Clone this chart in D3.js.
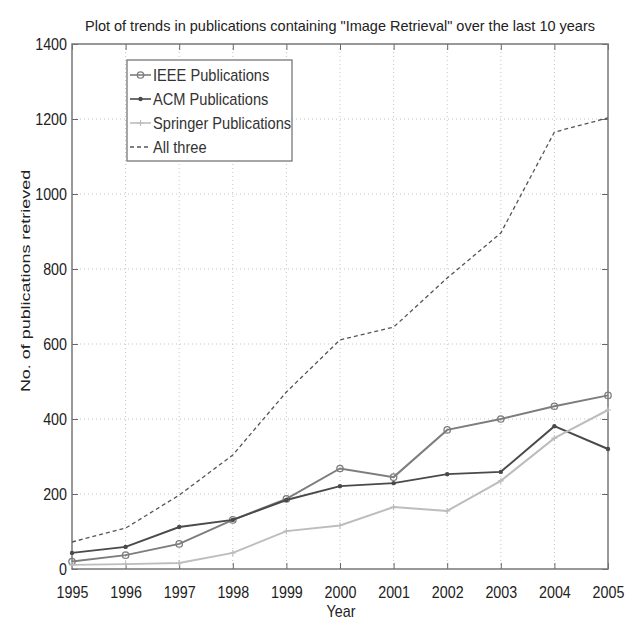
<!DOCTYPE html>
<html>
<head>
<meta charset="utf-8">
<script src="https://cdn.jsdelivr.net/npm/d3@7"></script>
<style>
  body { margin: 0; background: #fff; }
  svg { font-family: "Liberation Sans", Arial, sans-serif; }
</style>
</head>
<body>
<div id="chart"></div>
<script>
// data
const years = [1995, 1996, 1997, 1998, 1999, 2000, 2001, 2002, 2003, 2004, 2005];
const ieee = [20, 37, 67, 131, 187, 268, 245, 371, 400, 434, 463];
const acm = [43, 59, 112, 131, 184, 221, 229, 253, 259, 381, 320];
const springer = [11, 13, 16, 43, 101, 116, 165, 155, 235, 349, 424];
const allThree = [72, 109, 197, 304, 472, 611, 645, 776, 896, 1165, 1203];
const yTicks = [0, 200, 400, 600, 800, 1000, 1200, 1400];
const seriesNames = ["IEEE Publications", "ACM Publications", "Springer Publications", "All three"];

const W = 637, H = 623;
const margin = { top: 44, right: 29, bottom: 54, left: 72 };
const iw = W - margin.left - margin.right;
const ih = H - margin.top - margin.bottom;

const svg = d3.select("#chart").append("svg").attr("width", W).attr("height", H);
const g = svg.append("g").attr("transform", `translate(${margin.left},${margin.top})`);

const x = d3.scaleLinear().domain([1995, 2005]).range([0, iw]);
const y = d3.scaleLinear().domain([0, 1400]).range([ih, 0]);

// the source figure was squeezed sideways, so text is drawn narrower than normal
const condense = (sel, f) => sel.each(function () {
  const w = this.getComputedTextLength();
  d3.select(this).attr("textLength", w * f).attr("lengthAdjust", "spacingAndGlyphs");
});

// dotted grid
g.append("g").selectAll("line").data(years.slice(1, -1)).join("line")
  .attr("x1", d => x(d)).attr("x2", d => x(d)).attr("y1", 0).attr("y2", ih)
  .attr("stroke", "#c4c4c4").attr("stroke-width", 1).attr("stroke-dasharray", "1,3");
g.append("g").selectAll("line").data(yTicks.slice(1, -1)).join("line")
  .attr("y1", d => y(d)).attr("y2", d => y(d)).attr("x1", 0).attr("x2", iw)
  .attr("stroke", "#c4c4c4").attr("stroke-width", 1).attr("stroke-dasharray", "1,3");

// axes: matlab-style inward ticks on all four sides
const fmt = d3.format("d");
const styleAxis = sel => {
  sel.select(".domain").remove();
  sel.selectAll("line").attr("stroke", "#666");
  sel.selectAll("text").attr("fill", "#222").attr("font-size", 17).call(condense, 0.84);
};
g.append("g").attr("transform", `translate(0,${ih})`)
  .call(d3.axisBottom(x).tickValues(years).tickFormat(fmt).tickSizeInner(-6).tickSizeOuter(0).tickPadding(17))
  .call(styleAxis);
g.append("g")
  .call(d3.axisTop(x).tickValues(years).tickFormat("").tickSizeInner(-6).tickSizeOuter(0))
  .call(styleAxis);
g.append("g")
  .call(d3.axisLeft(y).tickValues(yTicks).tickFormat(fmt).tickSizeInner(-6).tickSizeOuter(0).tickPadding(5))
  .call(styleAxis);
g.append("g").attr("transform", `translate(${iw},0)`)
  .call(d3.axisRight(y).tickValues(yTicks).tickFormat("").tickSizeInner(-6).tickSizeOuter(0))
  .call(styleAxis);

g.append("rect").attr("width", iw).attr("height", ih)
  .attr("fill", "none").attr("stroke", "#777").attr("stroke-width", 1.5);

// series
const series = [
  { name: seriesNames[0], values: ieee, color: "#7d7d7d", dash: null, marker: "circle" },
  { name: seriesNames[1], values: acm, color: "#4a4a4a", dash: null, marker: "dot" },
  { name: seriesNames[2], values: springer, color: "#bdbdbd", dash: null, marker: "plus" },
  { name: seriesNames[3], values: allThree, color: "#555", dash: "4,3", marker: null },
];

const line = d3.line().x((d, i) => x(years[i])).y(d => y(d));

function drawMarker(sel, s, cx, cy) {
  if (s.marker === "circle") {
    sel.append("circle").attr("cx", cx).attr("cy", cy).attr("r", 3.2)
      .attr("fill", "none").attr("stroke", s.color).attr("stroke-width", 1.3);
  } else if (s.marker === "dot") {
    sel.append("circle").attr("cx", cx).attr("cy", cy).attr("r", 2.2).attr("fill", s.color);
  } else if (s.marker === "plus") {
    sel.append("path").attr("d", `M${cx - 3},${cy}H${cx + 3}M${cx},${cy - 3}V${cy + 3}`)
      .attr("stroke", s.color).attr("stroke-width", 1.2);
  }
}

series.forEach(s => {
  const sg = g.append("g");
  sg.append("path").attr("d", line(s.values)).attr("fill", "none")
    .attr("stroke", s.color).attr("stroke-width", s.dash ? 1.3 : 2)
    .attr("stroke-dasharray", s.dash);
  s.values.forEach((v, i) => drawMarker(sg, s, x(years[i]), y(v)));
});

// legend
const lg = svg.append("g").attr("transform", "translate(127,60)");
lg.append("rect").attr("width", 165).attr("height", 101)
  .attr("fill", "#fff").attr("stroke", "#777").attr("stroke-width", 1.3);
series.forEach((s, i) => {
  const yy = 15 + i * 24;
  const row = lg.append("g");
  row.append("line").attr("x1", 3).attr("x2", 24).attr("y1", yy).attr("y2", yy)
    .attr("stroke", s.color).attr("stroke-width", s.dash ? 1.3 : 1.6).attr("stroke-dasharray", s.dash);
  drawMarker(row, s, 13.5, yy);
  row.append("text").attr("x", 26).attr("y", yy + 6).attr("font-size", 17)
    .attr("fill", "#333").text(s.name).call(condense, 0.86);
});

// title and axis labels
svg.append("text").attr("x", 340).attr("y", 31)
  .attr("text-anchor", "middle").attr("font-size", 14.5).attr("fill", "#222")
  .text('Plot of trends in publications containing "Image Retrieval" over the last 10 years');
svg.append("text").attr("x", 341).attr("y", 617)
  .attr("text-anchor", "middle").attr("font-size", 17).attr("fill", "#222").text("Year")
  .call(condense, 0.84);
svg.append("text").attr("transform", "translate(30,281) rotate(-90) scale(1.38,1)")
  .attr("text-anchor", "middle").attr("font-size", 13).attr("fill", "#222")
  .text("No. of publications retrieved");
</script>
</body>
</html>
